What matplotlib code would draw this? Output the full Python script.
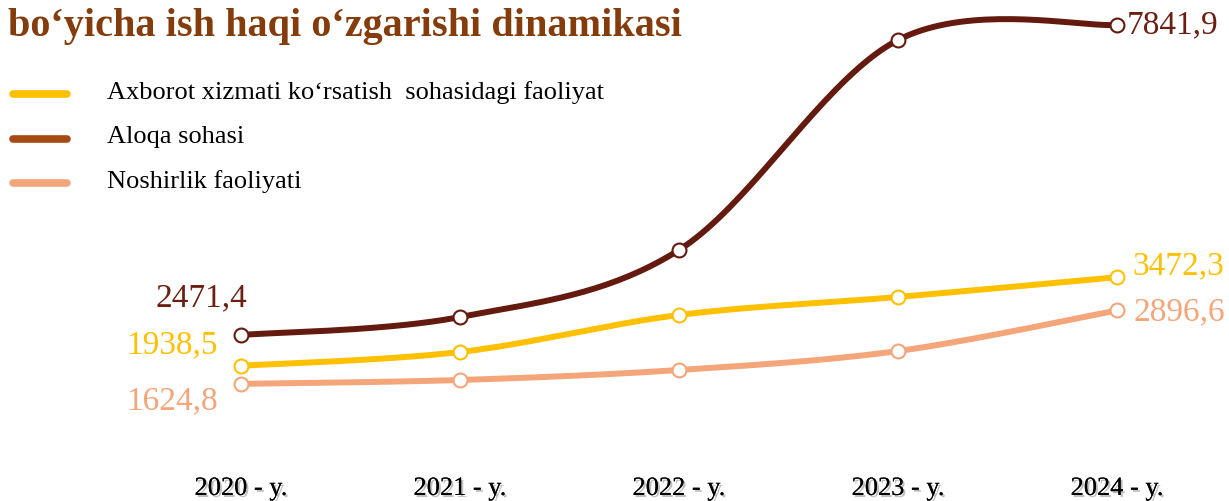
# wage dynamics chart by sector, 2020-2024
import numpy as np
from matplotlib import pyplot as plt
from matplotlib import patheffects as pe

years = ['2020 - y.', '2021 - y.', '2022 - y.', '2023 - y.', '2024 - y.']
axborot = [1938.5, 2177, 2818, 3130, 3472.3]
aloqa = [2471.4, 2783, 3944, 7581, 7841.9]
noshirlik = [1624.8, 1692, 1865, 2194, 2896.6]

series_names = ['Axborot xizmati ko\u2018rsatish  sohasidagi faoliyat',
                'Aloqa sohasi', 'Noshirlik faoliyati']
title = 'bo\u2018yicha ish haqi o\u2018zgarishi dinamikasi'


# excel-like smoothed line (bezier with 1/6 tangents)
def smooth(xs, ys, n=40):
    pts = np.column_stack([xs, ys]).astype(float)
    out = []
    for i in range(len(pts) - 1):
        p0 = pts[max(i - 1, 0)]
        p1 = pts[i]
        p2 = pts[i + 1]
        p3 = pts[min(i + 2, len(pts) - 1)]
        c1 = p1 + (p2 - p0) / 6
        c2 = p2 - (p3 - p1) / 6
        t = np.linspace(0, 1, n)[:, None]
        seg = ((1 - t) ** 3) * p1 + 3 * ((1 - t) ** 2) * t * c1 + 3 * (1 - t) * t ** 2 * c2 + t ** 3 * p2
        out.append(seg if i == 0 else seg[1:])
    out = np.vstack(out)
    return out[:, 0], out[:, 1]


fig = plt.figure(figsize=(12.29, 5.02), dpi=100)
ax = fig.add_axes([0, 0, 1, 1])
ax.set_xlim(-1.1005, 4.511)
ax.set_ylim(-404, 8291)
ax.axis('off')

x = np.arange(len(years))
cols = {'axborot': '#FFC000', 'aloqa': '#641A0E', 'noshirlik': '#F4A57A'}

for vals, c in [(noshirlik, cols['noshirlik']), (axborot, cols['axborot']), (aloqa, cols['aloqa'])]:
    sx, sy = smooth(x, vals)
    ax.plot(sx, sy, color=c, lw=4.3, solid_capstyle='round', zorder=2)
    ax.plot(x, vals, 'o', ms=10, mfc='white', mec=c, mew=1.5, zorder=3)

lab_font = dict(family='Liberation Serif', fontsize=24)
fmt = lambda v: ('%.1f' % v).replace('.', ',')
# first/last value labels
ax.annotate(fmt(aloqa[0]), (x[0], aloqa[0]), xytext=(-40, 38), textcoords='offset pixels',
            ha='center', va='center', color='#6B1F12', **lab_font)
ax.annotate(fmt(axborot[0]), (x[0], axborot[0]), xytext=(-23, 22), textcoords='offset pixels',
            ha='right', va='center', color=cols['axborot'], **lab_font)
ax.annotate(fmt(noshirlik[0]), (x[0], noshirlik[0]), xytext=(-23, -16), textcoords='offset pixels',
            ha='right', va='center', color=cols['noshirlik'], **lab_font)
ax.annotate(fmt(aloqa[-1]), (x[-1], aloqa[-1]), xytext=(10, 1), textcoords='offset pixels',
            ha='left', va='center', color='#6B1F12', **lab_font)
ax.annotate(fmt(axborot[-1]), (x[-1], axborot[-1]), xytext=(15, 12), textcoords='offset pixels',
            ha='left', va='center', color=cols['axborot'], **lab_font)
ax.annotate(fmt(noshirlik[-1]), (x[-1], noshirlik[-1]), xytext=(16, -1), textcoords='offset pixels',
            ha='left', va='center', color=cols['noshirlik'], **lab_font)

# year labels along the bottom
for i, yr in enumerate(years):
    ax.text(x[i], 0.024, yr, transform=ax.get_xaxis_transform(), ha='center', va='center',
            family='Liberation Serif', fontsize=19, color='black',
            path_effects=[pe.withSimplePatchShadow(offset=(1.5, -1.5), alpha=0.25), pe.Normal()])

# title
fig.text(0.0065, 0.948, title, ha='left', va='center', fontsize=29, fontweight='bold',
         color='#843C0C', family='Liberation Serif')

# legend drawn by hand
leg_cols = [cols['axborot'], '#A84A14', cols['noshirlik']]
leg_y = [0.810, 0.721, 0.633]
for name, c, ly in zip(series_names, leg_cols, leg_y):
    fig.add_artist(plt.Line2D([0.0105, 0.0545], [ly, ly], color=c, lw=5.5, solid_capstyle='round'))
    fig.text(0.087, ly + 0.006, name, ha='left', va='center', family='Liberation Serif',
             fontsize=19, color='black')

fig.savefig('out.png', dpi=100)
